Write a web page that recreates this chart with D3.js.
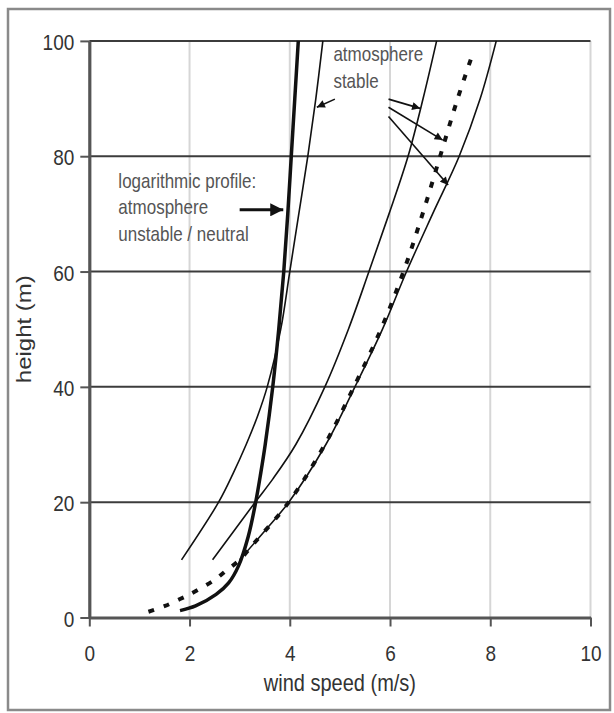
<!DOCTYPE html>
<html>
<head>
<meta charset="utf-8">
<script src="https://cdn.jsdelivr.net/npm/d3@7"></script>
<style>
  body { margin: 0; background: #fff; }
  text { font-family: "Liberation Sans", Arial, sans-serif; }
</style>
</head>
<body>
<div id="viz"></div>
<script>
// axis ticks
var speedTicks = [0, 2, 4, 6, 8, 10];
var heightTicks = [0, 20, 40, 60, 80, 100];

// logarithmic profile (thick)
var logHeight = [1.2, 2, 4, 6, 9, 14, 20, 25, 30, 40, 50, 60, 70, 80, 90, 100];
var logSpeed  = [1.81, 2.12, 2.53, 2.78, 2.98, 3.17, 3.32, 3.42, 3.51, 3.66, 3.78, 3.88, 3.96, 4.03, 4.1, 4.17];

// stable profiles (thin)
var stableAHeight = [10, 20, 25, 30, 35, 40, 50, 60, 70, 80, 90, 100];
var stableASpeed  = [1.84, 2.58, 2.87, 3.13, 3.36, 3.55, 3.82, 4.0, 4.18, 4.36, 4.52, 4.66];

var stableBHeight = [10, 20, 24, 30, 40, 50, 60, 70, 80, 90, 100];
var stableBSpeed  = [2.46, 3.31, 3.66, 4.12, 4.7, 5.17, 5.58, 5.98, 6.36, 6.66, 6.93];

var stableCHeight = [10, 15, 20, 30, 40, 50, 60, 70, 80, 90, 100];
var stableCSpeed  = [3.0, 3.5, 3.98, 4.72, 5.3, 5.85, 6.33, 6.85, 7.38, 7.8, 8.12];

// dashed profile
var dashHeight = [1, 2, 3.2, 4, 5.2, 6.6, 8.2, 10, 13, 20, 30, 40, 50, 60, 70, 80, 90, 97];
var dashSpeed  = [1.18, 1.51, 1.81, 2.0, 2.25, 2.51, 2.74, 3.0, 3.3, 3.98, 4.7, 5.28, 5.82, 6.27, 6.65, 7.0, 7.35, 7.62];

// annotations (in data units)
var logLabel = ["logarithmic profile:", "atmosphere", "unstable / neutral"];
var logLabelPos = {x: 0.58, y: [74.5, 70.0, 65.3]};
var logArrow = [[3.0, 70.7], [3.87, 70.7]];

var stableLabel = ["atmosphere", "stable"];
var stableLabelPos = {x: 4.87, y: [96.6, 91.9]};
var stableArrows = [
  [[4.9, 89.9], [4.54, 88.5]],
  [[5.97, 89.9], [6.6, 88.3]],
  [[5.97, 88.5], [7.05, 82.8]],
  [[5.97, 86.9], [7.16, 75.0]]
];

var w = 614, h = 713;
var stretch = 1.2; // text in the picture is stretched vertically

var svg = d3.select("#viz").append("svg")
  .attr("width", w)
  .attr("height", h);

var defs = svg.append("defs");
function addMarker(id, len, wid) {
  defs.append("marker")
    .attr("id", id)
    .attr("viewBox", "0 0 10 10")
    .attr("refX", 10).attr("refY", 5)
    .attr("markerWidth", len).attr("markerHeight", wid)
    .attr("markerUnits", "userSpaceOnUse")
    .attr("orient", "auto")
    .append("path")
    .attr("d", "M0,0L10,5L0,10z")
    .attr("fill", "#111");
}
addMarker("headBig", 15, 13);
addMarker("headSmall", 10, 8);

// outer frame
svg.append("rect")
  .attr("x", 8).attr("y", 9)
  .attr("width", 602).attr("height", 701)
  .attr("fill", "none")
  .attr("stroke", "#8a8a8a")
  .attr("stroke-width", 2.5);

var x = d3.scaleLinear().domain([0, 10]).range([89.3, 590.5]);
var y = d3.scaleLinear().domain([0, 100]).range([617.5, 40.9]);

// vertical grid (light)
svg.append("g").selectAll("line")
  .data(speedTicks.slice(1))
  .enter().append("line")
  .attr("x1", function(d) { return x(d); })
  .attr("x2", function(d) { return x(d); })
  .attr("y1", y(0)).attr("y2", y(100))
  .attr("stroke", "#d6d6d6")
  .attr("stroke-width", 2);

// horizontal grid (dark)
svg.append("g").selectAll("line")
  .data(heightTicks.slice(1))
  .enter().append("line")
  .attr("x1", x(0)).attr("x2", x(10))
  .attr("y1", function(d) { return y(d); })
  .attr("y2", function(d) { return y(d); })
  .attr("stroke", "#3c3c3c")
  .attr("stroke-width", 2);

function zipSeries(hs, vs) {
  return hs.map(function(hv, i) { return {h: hv, v: vs[i]}; });
}

var line = d3.line()
  .x(function(d) { return x(d.v); })
  .y(function(d) { return y(d.h); })
  .curve(d3.curveCatmullRom.alpha(0.5));

var series = [
  {data: zipSeries(stableAHeight, stableASpeed), width: 1.6, dash: null},
  {data: zipSeries(stableBHeight, stableBSpeed), width: 1.6, dash: null},
  {data: zipSeries(stableCHeight, stableCSpeed), width: 1.6, dash: null},
  {data: zipSeries(dashHeight, dashSpeed), width: 4, dash: "6,10"},
  {data: zipSeries(logHeight, logSpeed), width: 3.5, dash: null}
];

svg.append("g").selectAll("path")
  .data(series)
  .enter().append("path")
  .attr("d", function(d) { return line(d.data); })
  .attr("fill", "none")
  .attr("stroke", "#111")
  .attr("stroke-width", function(d) { return d.width; })
  .attr("stroke-dasharray", function(d) { return d.dash; });

// axes
var yAxis = svg.append("g")
  .attr("transform", "translate(" + x(0) + ",0)")
  .call(d3.axisLeft(y).tickValues(heightTicks).tickSize(9).tickSizeOuter(0));
var xAxis = svg.append("g")
  .attr("transform", "translate(0," + y(0) + ")")
  .call(d3.axisBottom(x).tickValues(speedTicks).tickSize(9).tickSizeOuter(0));

[yAxis, xAxis].forEach(function(a) {
  a.select(".domain").attr("stroke", "#555").attr("stroke-width", 3.2);
  a.selectAll(".tick line").attr("stroke", "#555").attr("stroke-width", 2);
  a.selectAll(".tick text")
    .attr("fill", "#333")
    .style("font-size", "19px")
    .attr("dy", null);
});
yAxis.selectAll(".tick text")
  .attr("x", null)
  .attr("transform", "translate(-15,8.5) scale(1," + stretch + ")");
xAxis.selectAll(".tick text")
  .attr("y", null)
  .attr("transform", "translate(0,43.5) scale(1," + stretch + ")");

// axis titles
svg.append("text")
  .attr("transform", "translate(" + (x(0) + x(10)) / 2 + ",691) scale(1," + stretch + ")")
  .attr("text-anchor", "middle")
  .attr("fill", "#333")
  .style("font-size", "20px")
  .text("wind speed (m/s)");

svg.append("text")
  .attr("transform", "translate(31," + (y(0) + y(100)) / 2 + ") scale(1," + stretch + ") rotate(-90)")
  .attr("text-anchor", "middle")
  .attr("fill", "#333")
  .style("font-size", "20px")
  .text("height (m)");

// annotation text
function addLabel(lines, pos) {
  svg.append("g").selectAll("text")
    .data(lines)
    .enter().append("text")
    .attr("transform", function(d, i) {
      return "translate(" + x(pos.x) + "," + y(pos.y[i]) + ") scale(1," + stretch + ")";
    })
    .attr("fill", "#555")
    .style("font-size", "17px")
    .text(function(d) { return d; });
}
addLabel(logLabel, logLabelPos);
addLabel(stableLabel, stableLabelPos);

// arrows
svg.append("line")
  .attr("x1", x(logArrow[0][0])).attr("y1", y(logArrow[0][1]))
  .attr("x2", x(logArrow[1][0])).attr("y2", y(logArrow[1][1]))
  .attr("stroke", "#111")
  .attr("stroke-width", 3)
  .attr("marker-end", "url(#headBig)");

svg.append("g").selectAll("line")
  .data(stableArrows)
  .enter().append("line")
  .attr("x1", function(d) { return x(d[0][0]); })
  .attr("y1", function(d) { return y(d[0][1]); })
  .attr("x2", function(d) { return x(d[1][0]); })
  .attr("y2", function(d) { return y(d[1][1]); })
  .attr("stroke", "#111")
  .attr("stroke-width", 1.6)
  .attr("marker-end", "url(#headSmall)");
</script>
</body>
</html>
